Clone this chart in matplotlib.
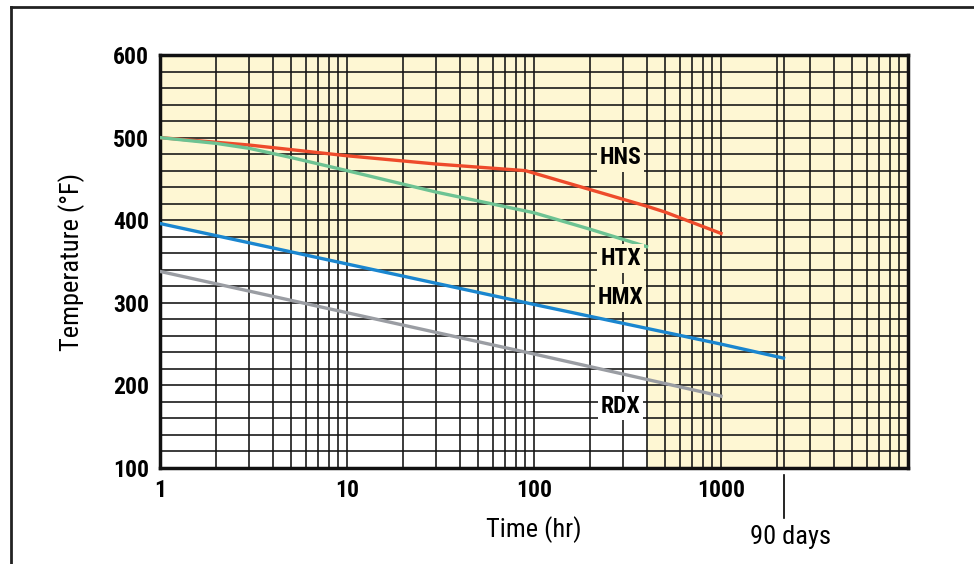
import numpy as np
import matplotlib
matplotlib.use('Agg')
import matplotlib.pyplot as plt
from matplotlib.ticker import LogLocator, MultipleLocator, NullFormatter, FixedLocator
from matplotlib.lines import Line2D

# data (time in hr, temperature in F)
hns_t = [1, 3, 10, 30, 90, 200, 400, 500, 1000]
hns_T = [500, 491, 478, 468, 460, 437, 417, 410, 384]

htx_t = [1, 2, 3, 5, 10, 30, 100, 200, 400]
htx_T = [500, 493, 487, 476, 460, 434, 409, 389, 368]

hmx_t = [1, 10, 100, 1000, 2160]
hmx_T = [396, 347, 298, 250, 233]

rdx_t = [1, 10, 100, 1000]
rdx_T = [338, 288, 238, 187]

xtick_vals = [1, 10, 100, 1000]
xtick_labels = ['1', '10', '100', '1000']
ytick_vals = [100, 200, 300, 400, 500, 600]
days90 = 2160
white_until = 400

cream = '#FEF7D3'
font = ['Roboto Condensed', 'Liberation Sans Narrow', 'Liberation Sans', 'DejaVu Sans']

fig = plt.figure(figsize=(9.74, 5.64), dpi=100)
ax = fig.add_axes([160/974, 1 - 468/564, 748/974, 413/564])
ax.set_xscale('log')
ax.set_xlim(1, 10000)
ax.set_ylim(100, 600)
ax.set_facecolor(cream)

# white zone under the HMX line up to 400 hr
xs = np.logspace(0, np.log10(white_until), 50)
ys = np.interp(np.log10(xs), np.log10(hmx_t), hmx_T)
ax.fill_between(xs, 100, ys, color='white', lw=0, zorder=0.5)

# grid
ax.xaxis.set_major_locator(FixedLocator(xtick_vals))
ax.xaxis.set_minor_locator(LogLocator(base=10, subs=np.arange(1, 10), numticks=20))
ax.xaxis.set_minor_formatter(NullFormatter())
ax.set_xticklabels(xtick_labels)
ax.yaxis.set_major_locator(FixedLocator(ytick_vals))
ax.yaxis.set_minor_locator(MultipleLocator(20))
ax.grid(which='both', color='#151515', lw=1.3, alpha=0.9, zorder=1)
ax.axvline(days90, color='#151515', lw=1.3, alpha=0.9, zorder=1)
ax.set_axisbelow(True)
ax.tick_params(which='both', length=0)
ax.tick_params(axis='y', pad=8)
ax.tick_params(axis='x', pad=8)
for lab in ax.get_xticklabels() + ax.get_yticklabels():
    lab.set_family(font)
    lab.set_fontweight('bold')
    lab.set_fontsize(17)
for s in ax.spines.values():
    s.set_linewidth(2.5)
    s.set_color('#111111')

ax.plot(hns_t, hns_T, color='#EE4B2B', lw=2.4, zorder=3)
ax.plot(htx_t, htx_T, color='#6DC393', lw=2.4, zorder=3)
ax.plot(hmx_t, hmx_T, color='#1A86CF', lw=2.4, zorder=3)
ax.plot(rdx_t, rdx_T, color='#9A9DA3', lw=2.4, zorder=3)

lab_kw = dict(ha='center', va='center', family=font, fontweight='bold', fontsize=17, zorder=4)
ax.text(290, 476, 'HNS', bbox=dict(fc=cream, ec='none', pad=2), **lab_kw)
ax.text(290, 354, 'HTX', bbox=dict(fc=cream, ec='none', pad=2), **lab_kw)
ax.text(290, 306, 'HMX', bbox=dict(fc=cream, ec='none', pad=2), **lab_kw)
ax.text(290, 175, 'RDX', bbox=dict(fc='white', ec='none', pad=2), **lab_kw)

ax.set_xlabel('Time (hr)', family=font, fontsize=19, labelpad=10)
ax.set_ylabel('Temperature (°F)', family=font, fontsize=19, labelpad=20)

# 90 days marker below the axis
fig.add_artist(Line2D([784/974, 784/974], [1 - 475/564, 1 - 518/564], color='black', lw=1.2))
fig.text(790/974, 1 - 537/564, '90 days', ha='center', va='center', family=font, fontsize=19)

# outer frame (top and left edges)
fig.add_artist(Line2D([11/974, 11/974], [0, 1 - 7/564], color='#222222', lw=2))
fig.add_artist(Line2D([11/974, 1], [1 - 7/564, 1 - 7/564], color='#222222', lw=2))

fig.savefig('out.png', dpi=100)
